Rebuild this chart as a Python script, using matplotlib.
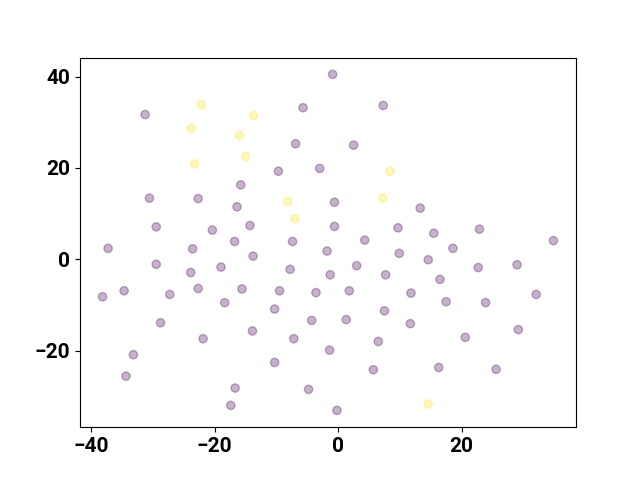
import matplotlib
matplotlib.use("Agg")
import matplotlib.pyplot as plt
import numpy as np

purple_x = [-0.9, -5.7, 7.3, -31.3, -6.9, 2.5, -3.0, -9.7, -15.8, -30.6, -22.7, -16.4,
            -0.6, 13.3, -29.5, -14.3, -20.4, -0.6, 9.7, 22.9, 15.5, -16.8, -7.4, 4.3,
            34.9, -37.3, -23.6, -1.8, 9.9, 18.6, -13.8, 14.6, -29.5, -19.0, 3.0, 22.7,
            29.0, -23.9, -7.8, -1.3, 7.7, 16.5, -38.2, -34.7, -27.3, -22.7, -15.6, -9.5,
            -3.6, 1.8, 11.8, 32.1, -18.4, 17.5, 23.9, -28.8, -4.3, 1.3, 11.7, -13.9,
            29.2, -21.9, -7.2, 6.5, 20.6, -1.4, -33.2, -10.3, 5.7, 16.3, 25.6, -34.4,
            -16.7, -4.8, -17.4, -0.2, -10.3, 7.5]
purple_y = [40.5, 33.2, 33.7, 31.7, 25.3, 25.0, 19.9, 19.3, 16.3, 13.4, 13.3, 11.5,
            12.5, 11.2, 7.1, 7.4, 6.4, 7.2, 6.9, 6.6, 5.7, 3.9, 3.9, 4.2,
            4.1, 2.4, 2.3, 1.8, 1.3, 2.4, 0.7, -0.1, -1.1, -1.7, -1.4, -1.8,
            -1.2, -2.9, -2.2, -3.4, -3.4, -4.4, -8.2, -6.9, -7.7, -6.4, -6.5, -6.9,
            -7.3, -6.9, -7.4, -7.7, -9.5, -9.3, -9.5, -13.9, -13.4, -13.2, -14.1, -15.7,
            -15.4, -17.4, -17.4, -18.0, -17.1, -19.9, -20.9, -22.6, -24.2, -23.7, -24.1, -25.6,
            -28.2, -28.5, -32.0, -33.1, -10.9, -11.3]

yellow_x = [-22.2, -13.7, -23.8, -16.0, -15.0, -23.3, -8.2, -7.0, 8.4, 7.2, 14.6]
yellow_y = [33.8, 31.5, 28.7, 27.1, 22.5, 20.9, 12.7, 8.9, 19.3, 13.4, -31.7]

x = np.array(purple_x + yellow_x)
y = np.array(purple_y + yellow_y)
labels = np.array([0] * len(purple_x) + [1] * len(yellow_x))

plt.rcParams['font.family'] = ['Roboto', 'DejaVu Sans']
plt.rcParams['font.weight'] = 'bold'
plt.rcParams['font.size'] = 15

fig, ax = plt.subplots(figsize=(6.4, 4.8), dpi=100)
ax.scatter(x, y, c=labels, cmap='viridis', alpha=0.3)
for lab in ax.get_xticklabels() + ax.get_yticklabels():
    lab.set_fontweight('bold')
fig.savefig("out.png")
